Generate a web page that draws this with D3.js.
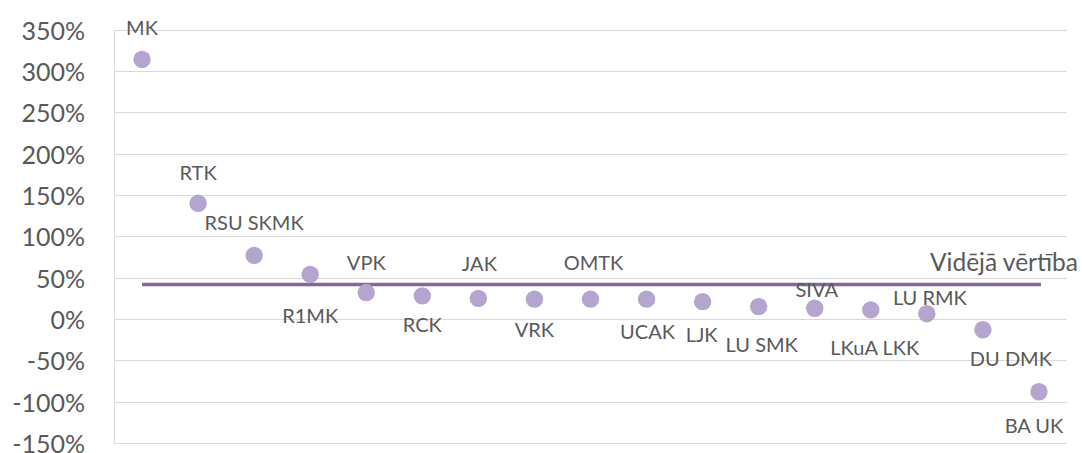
<!DOCTYPE html>
<html lang="lv">
<head>
    <meta charset="UTF-8">
    <script src="https://d3js.org/d3.v7.min.js"></script>
    <title>Vidējā vērtība</title>
    <style>
        body { margin: 0; background: white; }
        text { font-family: Lato, "Open Sans", sans-serif; fill: #595959; }
        .grid line { stroke: #d9d9d9; stroke-width: 1px; }
    </style>
</head>
<body>
<script>
    // categories (x order) and values in %
    const categories = ["MK", "RTK", "RSU SKMK", "R1MK", "VPK", "RCK", "JAK", "VRK", "OMTK",
        "UCAK", "LJK", "LU SMK", "SIVA", "LKuA LKK", "LU RMK", "DU DMK", "BA UK"]
    const values = [314, 140, 77, 54, 32, 28, 25, 24, 24, 24, 21, 15, 13, 11, 6.4, -13, -88]
    const averageValue = 41.6
    const averageLabel = "Vidējā vērtība"
    const yTicks = [-150, -100, -50, 0, 50, 100, 150, 200, 250, 300, 350]

    /*----- layout -----*/
    const width = 1082, height = 453
    const plot = { left: 114, right: 1067, top: 29.7, bottom: 443 }

    // label placement per point: [dx, dy] from dot centre to text centre
    const labelNudge = [
        [0, -32], [0, -31], [0, -33], [0, 41], [0, -31], [0, 28], [1, -35], [0, 30], [3, -37],
        [1, 32], [-1, 32], [3, 37], [2, -19], [4, 37], [3, -17], [28, 28], [-5, 33]
    ]

    const svg = d3.select("body").append("svg")
        .attr("width", width)
        .attr("height", height)

    const x = d3.scaleBand()
        .domain(categories)
        .range([plot.left, plot.right])

    const y = d3.scaleLinear()
        .domain([-150, 350])
        .range([plot.bottom, plot.top])

    // gridlines
    svg.append("g").attr("class", "grid")
        .selectAll("line")
        .data(yTicks)
        .join("line")
        .attr("x1", plot.left)
        .attr("x2", plot.right)
        .attr("y1", d => Math.round(y(d)) + 0.5)
        .attr("y2", d => Math.round(y(d)) + 0.5)

    // left axis line
    svg.append("line")
        .attr("x1", plot.left + 0.5).attr("x2", plot.left + 0.5)
        .attr("y1", Math.round(y(350)) + 0.5).attr("y2", Math.round(y(-150)) + 0.5)
        .attr("stroke", "#d9d9d9")

    // y tick labels
    svg.append("g")
        .selectAll("text")
        .data(yTicks)
        .join("text")
        .attr("x", 85)
        .attr("y", d => y(d))
        .attr("text-anchor", "end")
        .attr("dominant-baseline", "central")
        .style("font-size", "25px")
        .text(d => d + "%")

    // average line
    const cx = d => x(d) + x.bandwidth() / 2
    svg.append("line")
        .attr("x1", cx(categories[0]))
        .attr("x2", cx(categories[categories.length - 1]) + 2)
        .attr("y1", y(averageValue))
        .attr("y2", y(averageValue))
        .attr("stroke", "#806a9a")
        .attr("stroke-width", 3.5)

    svg.append("text")
        .attr("x", 1078)
        .attr("y", y(averageValue) - 23)
        .attr("text-anchor", "end")
        .attr("dominant-baseline", "central")
        .style("font-size", "24.5px")
        .text(averageLabel)

    // dots
    svg.append("g")
        .selectAll("circle")
        .data(values)
        .join("circle")
        .attr("cx", (d, i) => cx(categories[i]))
        .attr("cy", d => y(d))
        .attr("r", 8.7)
        .attr("fill", "#b4a5cf")

    // point labels
    svg.append("g")
        .selectAll("text")
        .data(values)
        .join("text")
        .attr("x", (d, i) => cx(categories[i]) + labelNudge[i][0])
        .attr("y", (d, i) => y(d) + labelNudge[i][1])
        .attr("text-anchor", "middle")
        .attr("dominant-baseline", "central")
        .style("font-size", "20px")
        .text((d, i) => categories[i])
</script>
</body>
</html>
